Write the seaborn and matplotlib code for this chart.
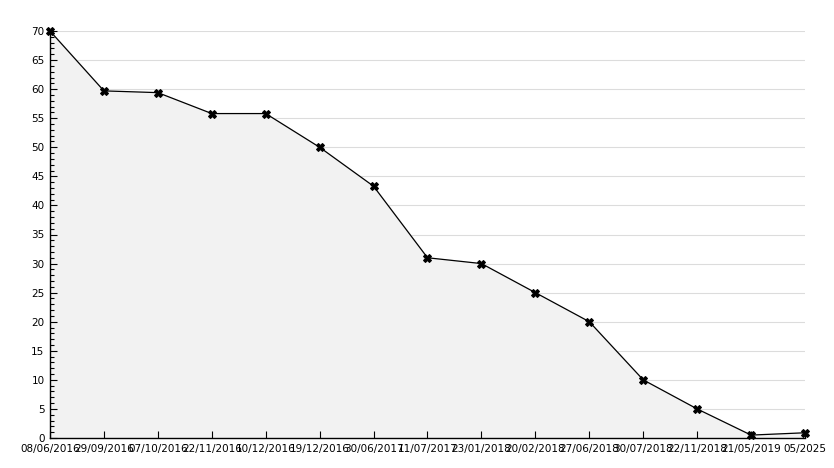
import matplotlib
matplotlib.use("Agg")
import matplotlib.pyplot as plt
import seaborn as sns
import pandas as pd
from matplotlib.ticker import MultipleLocator

dates = ["08/06/2016", "29/09/2016", "07/10/2016", "22/11/2016", "10/12/2016",
         "19/12/2016", "30/06/2017", "11/07/2017", "23/01/2018", "20/02/2018",
         "27/06/2018", "30/07/2018", "22/11/2018", "21/05/2019", "05/2025"]
values = [70, 59.7, 59.4, 55.8, 55.8, 50.0, 43.3, 31.0, 30.0, 25.0,
          20.0, 10.0, 5.0, 0.5, 0.9]

df = pd.DataFrame({"pos": range(len(dates)), "value": values})

sns.set_style("white", {"xtick.bottom": True, "ytick.left": True,
                        "axes.edgecolor": "black", "text.color": "black",
                        "xtick.color": "black", "ytick.color": "black"})
plt.rcParams['font.family'] = ['DejaVu Sans']

fig = plt.figure(figsize=(8.34, 4.68), dpi=100)
ax = fig.add_axes([50 / 834, 30 / 468, 755 / 834, 407 / 468])

sns.lineplot(data=df, x="pos", y="value", ax=ax, color="black", linewidth=0.9,
             marker="X", markersize=5.5, markeredgecolor="black", zorder=3,
             clip_on=False)
# grey area under the curve, above the grid but below the axis ticks
ax.fill_between(df["pos"], df["value"], 0, color="#f2f2f2", zorder=1)

ax.set_xlim(0, len(dates) - 1)
ax.set_ylim(0, 70)
ax.set_xticks(df["pos"])
ax.set_xticklabels(dates, fontsize=7.5)
ax.yaxis.set_major_locator(MultipleLocator(5))
ax.yaxis.set_minor_locator(MultipleLocator(1))
ax.tick_params(axis="y", labelsize=7.5)
ax.tick_params(axis="both", which="major", direction="in", length=5, width=0.8,
               color="black", labelcolor="black", pad=4)
ax.tick_params(axis="y", which="minor", direction="in", length=3, width=0.8,
               color="black", left=True)
ax.set_xlabel("")
ax.set_ylabel("")

# horizontal grid at the major y ticks, drawn beneath the fill
ax.grid(False)
ax.set_axisbelow(False)
yt = [t for t in ax.get_yticks() if 0 < t <= 70]
ax.hlines(yt, 0, len(dates) - 1, color="#dcdcdc", linewidth=0.8, zorder=0.5)

for s in ["top", "right"]:
    ax.spines[s].set_visible(False)
for s in ["left", "bottom"]:
    ax.spines[s].set_color("black")
    ax.spines[s].set_linewidth(1.0)

fig.savefig("out.png", dpi=100)
